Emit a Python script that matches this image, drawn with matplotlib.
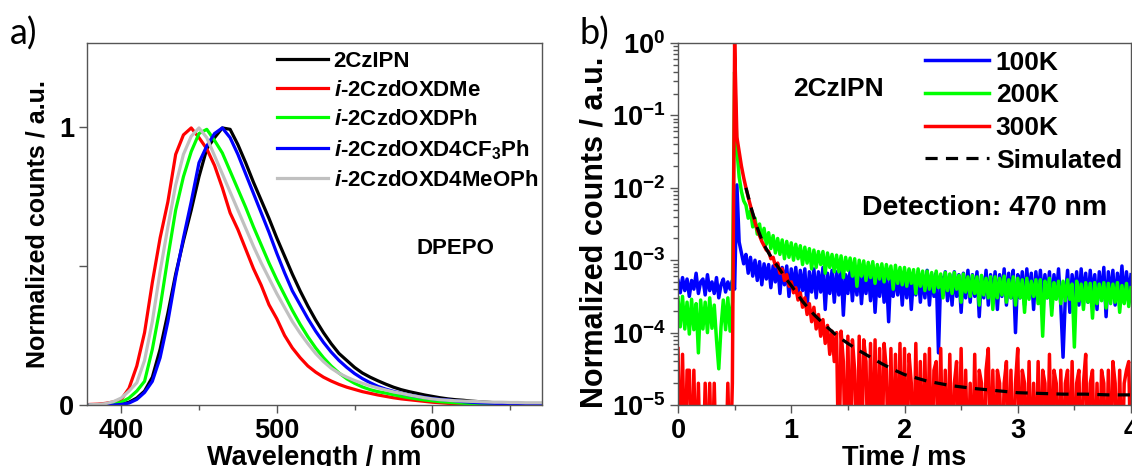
import numpy as np
import matplotlib
matplotlib.use("Agg")
import matplotlib.pyplot as plt
from matplotlib.ticker import (FixedLocator, FuncFormatter, LogLocator,
                               NullFormatter, MultipleLocator)

plt.rcParams['font.family'] = ['Liberation Sans', 'DejaVu Sans']
plt.rcParams['font.weight'] = 'bold'
plt.rcParams['axes.labelweight'] = 'bold'
plt.rcParams['mathtext.fontset'] = 'custom'
plt.rcParams['mathtext.rm'] = 'Liberation Sans:bold'
plt.rcParams['mathtext.bf'] = 'Liberation Sans:bold'
plt.rcParams['mathtext.it'] = 'Liberation Sans:italic:bold'
plt.rcParams['mathtext.default'] = 'bf'

# ---------------- (a) steady-state PL spectra in DPEPO ----------------
wavelength_nm = list(range(380, 671, 5))

pl_2CzIPN = [0.0, 0.0, 0.0, 0.001, 0.003, 0.01, 0.025, 0.05, 0.10, 0.20,
             0.33, 0.47, 0.59, 0.70, 0.82, 0.92, 0.96, 0.995, 0.99, 0.935,
             0.87, 0.80, 0.735, 0.67, 0.60, 0.535, 0.47, 0.41, 0.355, 0.305,
             0.26, 0.22, 0.185, 0.16, 0.135, 0.115, 0.10, 0.087, 0.075, 0.064,
             0.055, 0.048, 0.042, 0.036, 0.031, 0.026, 0.022, 0.019, 0.017, 0.014,
             0.012, 0.010, 0.008, 0.007, 0.006, 0.005, 0.004, 0.003, 0.003]

pl_DMe = [0.002, 0.003, 0.006, 0.011, 0.02, 0.06, 0.14, 0.26, 0.44, 0.60,
          0.73, 0.90, 0.97, 0.995, 0.96, 0.92, 0.86, 0.78, 0.69, 0.63,
          0.56, 0.49, 0.43, 0.36, 0.31, 0.25, 0.205, 0.17, 0.14, 0.118,
          0.10, 0.086, 0.074, 0.064, 0.056, 0.048, 0.042, 0.036, 0.031, 0.026,
          0.022, 0.019, 0.016, 0.013, 0.010, 0.008, 0.006, 0.005, 0.004, 0.003,
          0.002, 0.001, 0.001, 0.0, 0.0, 0.0, 0.0, 0.0, 0.0]

pl_DPh = [0.0, 0.0, 0.001, 0.004, 0.01, 0.025, 0.05, 0.085, 0.20, 0.35,
          0.53, 0.70, 0.82, 0.91, 0.975, 0.99, 0.95, 0.905, 0.84, 0.775,
          0.71, 0.64, 0.575, 0.51, 0.45, 0.395, 0.34, 0.29, 0.245, 0.205,
          0.17, 0.14, 0.115, 0.094, 0.078, 0.065, 0.055, 0.048, 0.043, 0.037,
          0.031, 0.026, 0.022, 0.018, 0.015, 0.012, 0.010, 0.008, 0.006, 0.005,
          0.004, 0.003, 0.002, 0.002, 0.001, 0.001, 0.0, 0.0, 0.0]

pl_D4CF3Ph = [0.0, 0.0, 0.0, 0.0, 0.002, 0.007, 0.02, 0.045, 0.085, 0.17,
              0.30, 0.46, 0.60, 0.73, 0.87, 0.93, 0.975, 0.995, 0.96, 0.90,
              0.83, 0.76, 0.69, 0.62, 0.545, 0.475, 0.41, 0.36, 0.31, 0.265,
              0.225, 0.19, 0.16, 0.135, 0.113, 0.095, 0.08, 0.067, 0.057, 0.049,
              0.042, 0.036, 0.031, 0.027, 0.023, 0.020, 0.018, 0.015, 0.012, 0.010,
              0.008, 0.007, 0.006, 0.005, 0.004, 0.003, 0.002, 0.001, 0.001]

pl_D4MeOPh = [0.001, 0.002, 0.005, 0.012, 0.025, 0.05, 0.08, 0.16, 0.30, 0.48,
              0.64, 0.79, 0.90, 0.965, 0.995, 0.96, 0.895, 0.83, 0.765, 0.70,
              0.635, 0.57, 0.51, 0.455, 0.40, 0.35, 0.30, 0.258, 0.22, 0.185,
              0.156, 0.132, 0.114, 0.10, 0.088, 0.078, 0.069, 0.061, 0.054, 0.047,
              0.042, 0.036, 0.031, 0.026, 0.022, 0.019, 0.017, 0.015, 0.014, 0.013,
              0.012, 0.011, 0.010, 0.010, 0.009, 0.009, 0.008, 0.008, 0.008]

pl_series = [pl_2CzIPN, pl_DMe, pl_DPh, pl_D4CF3Ph, pl_D4MeOPh]
pl_labels = ['2CzIPN',
             r'$\mathit{i}$-2CzdOXDMe',
             r'$\mathit{i}$-2CzdOXDPh',
             r'$\mathit{i}$-2CzdOXD4CF$_3$Ph',
             r'$\mathit{i}$-2CzdOXD4MeOPh']
pl_colors = ['#000000', '#ff0000', '#00ff00', '#0000ff', '#c0c0c0']

# ---------------- (b) transient decays of 2CzIPN (log10 of counts) ----------------
time_step_ms = 0.02
time_ms = np.arange(201) * time_step_ms

log_decay_100K = [
    -3.28, -3.45, -3.24, -3.42, -3.26, -3.50, -3.28, -3.40, -3.18, -3.46,
    -3.30, -3.26, -3.48, -3.20, -3.42, -3.30, -3.46, -3.24, -3.52, -3.34,
    -3.26, -3.44, -3.30, -3.40, -3.28, -3.40, -1.96, -2.75, -2.90, -3.05,
    -2.92, -3.18, -2.96, -3.22, -3.00, -3.28, -3.02, -3.34, -3.05, -3.26,
    -3.06, -3.38, -3.08, -3.30, -3.05, -3.46, -3.10, -3.34, -3.08, -3.50,
    -3.12, -3.40, -3.10, -3.48, -3.14, -3.42, -3.12, -3.66, -3.16, -3.44,
    -3.12, -3.52, -3.16, -3.44, -3.10, -3.68, -3.18, -3.46, -3.14, -3.58,
    -3.16, -3.48, -3.10, -3.76, -3.20, -3.46, -3.14, -3.56, -3.18, -3.48,
    -3.12, -3.60, -3.20, -3.46, -3.16, -3.56, -3.10, -3.72, -3.22, -3.50,
    -3.16, -3.58, -3.20, -3.85, -3.14, -3.50, -3.20, -3.48, -3.16, -3.62,
    -3.18, -3.52, -3.14, -3.68, -3.22, -3.48, -3.16, -3.58, -3.20, -3.52,
    -3.14, -3.62, -3.20, -3.50, -3.18, -4.28, -3.22, -3.48, -3.16, -3.56,
    -3.20, -3.62, -3.16, -3.50, -3.20, -3.72, -3.18, -3.52, -3.14, -3.58,
    -3.20, -3.50, -3.16, -3.78, -3.22, -3.52, -3.14, -3.62, -3.20, -3.50,
    -3.16, -3.68, -3.20, -3.50, -3.12, -3.62, -3.18, -3.52, -3.14, -4.00,
    -3.20, -3.52, -3.16, -3.62, -3.12, -3.50, -3.18, -3.68, -3.16, -3.50,
    -3.14, -3.58, -3.20, -3.52, -3.16, -3.66, -3.20, -3.50, -3.12, -3.62,
    -4.34, -3.52, -3.14, -3.72, -3.20, -3.50, -3.16, -3.62, -3.12, -3.52,
    -3.18, -3.58, -3.14, -3.50, -3.20, -3.68, -3.16, -3.52, -3.10, -3.78,
    -3.16, -3.52, -3.14, -3.62, -3.18, -3.50, -3.08, -3.58, -3.16, -3.48,
    -3.20]

log_decay_200K = [
    -3.52, -3.92, -3.50, -3.95, -3.58, -4.02, -3.54, -3.96, -3.60, -4.28,
    -3.55, -3.95, -3.58, -4.00, -3.52, -3.94, -3.62, -4.10, -4.50, -3.92,
    -3.55, -3.96, -3.52, -3.98, -3.58, -0.40, -1.47, -1.85, -2.05, -2.18,
    -2.24, -2.42, -2.32, -2.54, -2.42, -2.64, -2.50, -2.72, -2.56, -2.78,
    -2.62, -2.84, -2.66, -2.90, -2.70, -2.92, -2.72, -2.98, -2.74, -2.96,
    -2.76, -3.00, -2.78, -2.98, -2.80, -3.06, -2.82, -3.04, -2.84, -3.12,
    -2.86, -3.10, -2.88, -3.06, -2.88, -3.18, -2.90, -3.10, -2.92, -3.16,
    -2.93, -3.16, -2.94, -3.24, -2.96, -3.14, -2.97, -3.22, -2.98, -3.36,
    -3.00, -3.22, -3.01, -3.28, -3.03, -3.24, -3.02, -3.32, -3.06, -3.26,
    -3.05, -3.30, -3.06, -3.26, -3.08, -3.40, -3.07, -3.32, -3.10, -3.34,
    -3.10, -3.36, -3.12, -3.32, -3.13, -3.46, -3.12, -3.36, -3.15, -3.42,
    -3.15, -3.40, -3.17, -3.44, -3.15, -3.38, -3.19, -3.52, -3.17, -3.42,
    -3.19, -3.46, -3.17, -3.40, -3.21, -3.58, -3.19, -3.44, -3.23, -3.50,
    -3.21, -3.46, -3.23, -3.62, -3.21, -3.48, -3.25, -3.52, -3.23, -3.68,
    -3.23, -3.52, -3.25, -3.48, -3.22, -3.58, -3.27, -3.52, -3.23, -3.62,
    -3.25, -3.52, -3.27, -3.72, -3.25, -3.54, -3.29, -3.50, -3.27, -3.60,
    -3.27, -4.05, -3.29, -3.52, -3.25, -3.76, -3.31, -3.54, -3.29, -3.60,
    -3.29, -3.56, -3.27, -3.54, -3.33, -4.20, -3.29, -3.56, -3.33, -3.68,
    -3.31, -3.58, -3.32, -3.80, -3.31, -3.60, -3.33, -3.56, -3.31, -3.66,
    -3.32, -3.60, -3.33, -3.58, -3.31, -3.72, -3.35, -3.60, -3.32, -3.64,
    -3.38]

# -6 marks empty bins (zero counts), which fall below the axis floor
log_decay_300K = [
    -4.22, -6.00, -4.30, -6.00, -4.52, -4.52, -6.00, -4.52, -6.00, -4.70,
    -6.00, -6.00, -4.70, -6.00, -4.70, -6.00, -4.70, -6.00, -6.00, -6.00,
    -6.00, -6.00, -4.70, -6.00, -4.70, 0.00, -1.30, -1.50, -1.70, -1.86,
    -2.00, -2.13, -2.25, -2.37, -2.48, -2.58, -2.66, -2.74, -2.80, -2.86,
    -2.88, -2.98, -2.96, -3.08, -3.04, -3.18, -3.12, -3.28, -3.20, -3.36,
    -3.30, -3.45, -3.38, -3.55, -3.45, -3.65, -3.52, -3.75, -3.60, -3.85,
    -3.65, -3.95, -3.75, -4.05, -3.82, -4.15, -3.90, -4.30, -3.98, -4.40,
    -4.00, -6.00, -3.98, -4.40, -6.00, -4.05, -6.00, -4.10, -4.52, -6.00,
    -4.05, -6.00, -4.10, -4.40, -6.00, -4.15, -6.00, -4.10, -6.00, -4.22,
    -6.00, -4.15, -4.52, -6.00, -4.22, -6.00, -4.30, -6.00, -4.15, -6.00,
    -4.22, -6.00, -4.30, -4.70, -6.00, -4.15, -6.00, -4.40, -6.00, -4.30,
    -6.00, -4.22, -6.00, -4.52, -4.40, -6.00, -4.22, -6.00, -4.52, -6.00,
    -4.30, -6.00, -4.70, -4.40, -6.00, -4.22, -6.00, -4.52, -6.00, -4.70,
    -6.00, -4.30, -6.00, -4.52, -4.70, -6.00, -4.52, -4.22, -6.00, -4.52,
    -6.00, -4.52, -4.70, -6.00, -4.70, -4.40, -6.00, -4.52, -6.00, -4.70,
    -4.22, -6.00, -4.52, -4.70, -6.00, -4.40, -6.00, -4.70, -6.00, -4.40,
    -6.00, -4.52, -4.70, -6.00, -4.30, -6.00, -4.52, -4.70, -6.00, -4.52,
    -6.00, -4.70, -4.52, -6.00, -4.40, -6.00, -4.70, -4.52, -6.00, -4.70,
    -4.30, -6.00, -4.70, -4.52, -6.00, -4.70, -6.00, -4.52, -4.70, -6.00,
    -4.52, -6.00, -4.40, -4.70, -6.00, -4.52, -6.00, -4.70, -4.52, -4.40,
    -6.00]

sim_time_ms = [0.60, 0.65, 0.70, 0.75, 0.80, 0.85, 0.90, 0.95, 1.00, 1.10,
               1.20, 1.30, 1.40, 1.50, 1.60, 1.70, 1.80, 1.90, 2.00, 2.20,
               2.40, 2.60, 2.80, 3.00, 3.20, 3.40, 3.60, 3.80, 4.00]
log_simulated = [-2.00, -2.30, -2.55, -2.76, -2.90, -3.02, -3.13, -3.25, -3.35, -3.57,
                 -3.75, -3.90, -4.04, -4.15, -4.25, -4.34, -4.43, -4.51, -4.58, -4.67,
                 -4.73, -4.77, -4.80, -4.83, -4.84, -4.85, -4.85, -4.86, -4.86]

decay_series = [(log_decay_100K, '#0000ff', '100K'),
                (log_decay_200K, '#00ff00', '200K'),
                (log_decay_300K, '#ff0000', '300K')]

# ---------------- figure ----------------
W, H = 1132, 466
fig = plt.figure(figsize=(W / 100, H / 100), dpi=100)
ax1 = fig.add_axes([87 / W, 61 / H, 455 / W, 362 / H])
ax2 = fig.add_axes([678 / W, 61 / H, 453 / W, 362 / H])

frame_color = '#555555'
for ax in (ax1, ax2):
    for side in ('top', 'right', 'bottom', 'left'):
        ax.spines[side].set_color(frame_color)
        ax.spines[side].set_linewidth(1.0)
    ax.tick_params(which='both', direction='out', color=frame_color, width=1.0,
                   top=False, right=False, labelsize=19.5, pad=3)
    ax.tick_params(which='major', length=6)
    ax.tick_params(which='minor', length=3.5)

# panel (a)
for y, lab, col in zip(pl_series, pl_labels, pl_colors):
    ax1.plot(wavelength_nm, y, color=col, lw=2.3, label=lab, solid_joinstyle='round')
ax1.set_xlim(378, 670.5)
ax1.set_ylim(0, 1.30)
ax1.xaxis.set_major_locator(FixedLocator([400, 500, 600]))
ax1.xaxis.set_minor_locator(FixedLocator([450, 550, 650]))
ax1.yaxis.set_major_locator(FixedLocator([0, 0.5, 1]))
ax1.yaxis.set_major_formatter(FuncFormatter(
    lambda v, p: '%d' % v if abs(v - round(v)) < 1e-9 else ''))
ax1.set_xlabel('Wavelength / nm', fontsize=19.5, fontweight='bold')
ax1.set_ylabel('Normalized counts / a.u.', fontsize=18, fontweight='bold')
ax1.xaxis.set_label_coords(0.5, -0.11)
ax1.yaxis.set_label_coords(-0.083, 0.5)
ax1.legend(loc='upper left', bbox_to_anchor=(0.4176, 0.978), frameon=False,
           fontsize=16, handlelength=2.3, handletextpad=0.25, labelspacing=0.36,
           borderpad=0, borderaxespad=0)
ax1.text(0.81, 0.432, 'DPEPO', transform=ax1.transAxes, fontsize=16,
         ha='center', va='center')

# panel (b)
for logs, col, lab in decay_series:
    ax2.plot(time_ms, 10.0 ** np.array(logs), color=col, lw=2.5, label=lab)
ax2.plot(sim_time_ms, 10.0 ** np.array(log_simulated), color='black', lw=2.3,
         ls=(0, (3.8, 2.6)), label='Simulated')
ax2.set_yscale('log')
ax2.set_xlim(0, 4)
ax2.set_ylim(1e-5, 1)
ax2.xaxis.set_major_locator(MultipleLocator(1))
ax2.xaxis.set_minor_locator(MultipleLocator(0.5))
ax2.yaxis.set_major_locator(LogLocator(base=10, numticks=10))
ax2.yaxis.set_minor_locator(LogLocator(base=10, subs=np.arange(2, 10), numticks=10))
ax2.yaxis.set_minor_formatter(NullFormatter())
ax2.yaxis.set_major_formatter(FuncFormatter(
    lambda v, p: r'$\mathbf{10^{%d}}$' % int(round(np.log10(v)))))
ax2.set_xlabel('Time / ms', fontsize=19.5, fontweight='bold')
ax2.set_ylabel('Normalized counts / a.u.', fontsize=22, fontweight='bold')
ax2.xaxis.set_label_coords(0.5, -0.11)
ax2.yaxis.set_label_coords(-0.152, 0.478)
ax2.legend(loc='upper left', bbox_to_anchor=(0.546, 0.979), frameon=False,
           fontsize=19, handlelength=2.4, handletextpad=0.27, labelspacing=0.33,
           borderpad=0, borderaxespad=0)
ax2.text(0.354, 0.873, '2CzIPN', transform=ax2.transAxes, fontsize=19,
         ha='center', va='center')
ax2.text(0.677, 0.544, 'Detection: 470 nm', transform=ax2.transAxes,
         fontsize=20.5, ha='center', va='center')

# panel letters
fig.text(10 / W, 1 - 45 / H, 'a)', fontsize=26, family=['Lato', 'DejaVu Sans'],
         weight='normal', va='baseline')
fig.text(580 / W, 1 - 45 / H, 'b)', fontsize=26, family=['Lato', 'DejaVu Sans'],
         weight='normal', va='baseline')

fig.savefig('out.png', dpi=100)
